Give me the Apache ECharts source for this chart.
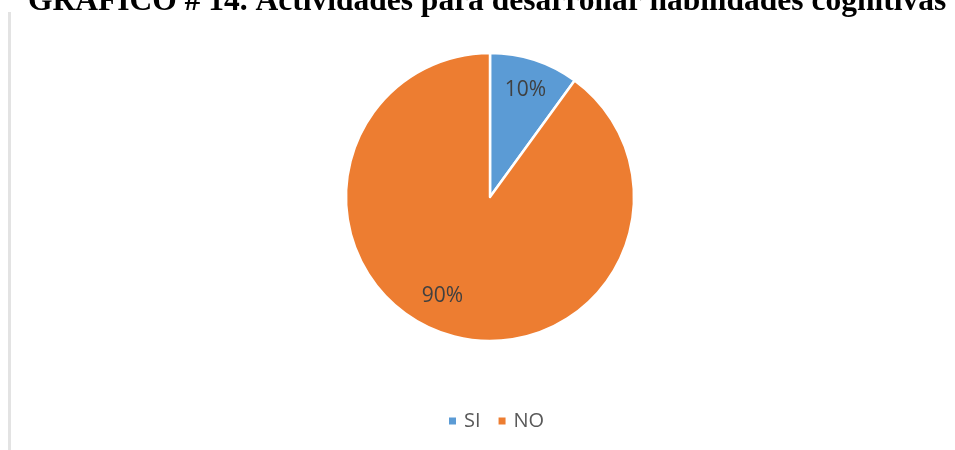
<!DOCTYPE html>
<html><head><meta charset="utf-8">
<script src="https://cdn.jsdelivr.net/npm/echarts@6/dist/echarts.min.js"></script>
<style>html,body{margin:0;padding:0;background:#fff}#c{width:955px;height:450px}</style>
</head><body><div id="c"></div>
<script>
const titleText = 'GRAFICO # 14. Actividades para desarrollar habilidades cognitivas';
const categories = ['SI', 'NO'];
const values = [10, 90];
const colors = ['#5B9BD5', '#ED7D31'];

const chart = echarts.init(document.getElementById('c'), null, {renderer: 'canvas'});
const data = categories.map((c, i) => ({name: c, value: values[i], itemStyle: {color: colors[i]}}));
const labelOffsets = [[0, 2], [-12, -10]];
chart.setOption({
  animation: false,
  title: {
    text: titleText, left: 23, top: -19,
    textStyle: {fontFamily: 'Liberation Serif', fontWeight: 'bold', fontSize: 31.5, color: '#000'}
  },
  graphic: [{
    type: 'rect', shape: {x: 8, y: 12, width: 3, height: 440},
    style: {fill: '#e3e3e3'}, silent: true
  }],
  legend: {
    bottom: 14, left: 442, itemWidth: 9, itemHeight: 9, itemGap: 16,
    icon: 'rect',
    data: categories,
    textStyle: {fontFamily: 'Open Sans', fontSize: 20, color: '#595959', padding: [0, 0, 0, 2]}
  },
  series: [{
    type: 'pie', center: [490, 197], radius: [0, 144],
    startAngle: 90, clockwise: true,
    data: data,
    itemStyle: {borderColor: '#fff', borderWidth: 2.5},
    label: {show: false}, labelLine: {show: false}, emphasis: {disabled: true}
  }, {
    type: 'pie', center: [490, 197], radius: [80, 144],
    startAngle: 90, clockwise: true, silent: true,
    data: categories.map((c, i) => ({name: c, value: values[i], label: {offset: labelOffsets[i]}})),
    itemStyle: {color: 'transparent', borderWidth: 0},
    label: {show: true, position: 'inside', formatter: '{d}%',
      fontFamily: 'Open Sans', fontSize: 21, color: '#404040'},
    labelLine: {show: false}, emphasis: {disabled: true}
  }]
});
</script></body></html>
